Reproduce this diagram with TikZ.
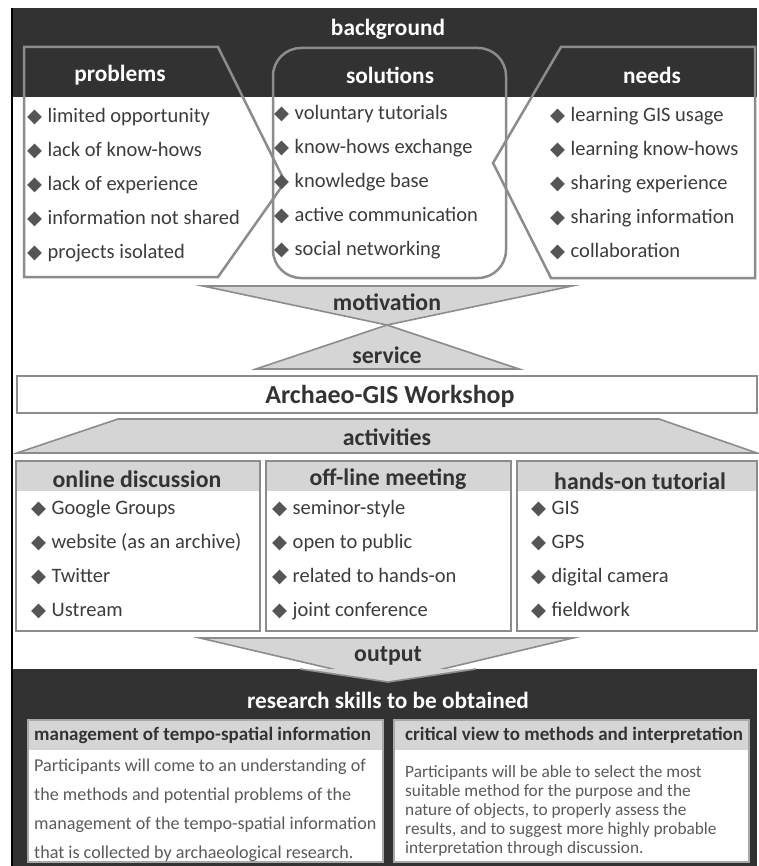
\documentclass[tikz,border=0pt]{standalone}
\usepackage{fontspec}
\setmainfont{Carlito}
\newfontfamily\symfont{DejaVu Sans}
\definecolor{band}{HTML}{323232}
\definecolor{edge}{HTML}{8C8C8C}
\definecolor{subedge}{HTML}{A8A8A8}
\definecolor{lightfill}{HTML}{D5D5D5}
\definecolor{itemtext}{HTML}{3C3C3C}
\definecolor{bodytext}{HTML}{5A5A5A}
\definecolor{hdrtext}{HTML}{333333}
\definecolor{bulletc}{HTML}{555555}
\newcommand{\dmd}{{\symfont\color{bulletc}\fontsize{19.5}{19.5}\selectfont ◆}\hspace{5.5pt}}
\begin{document}
\begin{tikzpicture}[x=1pt,y=-1pt,
  outl/.style={draw=edge, line width=2.5pt, line join=miter},
  tri/.style={draw=edge, fill=lightfill, line width=1.6pt},
  hdr/.style={font=\fontsize{23.3}{25}\selectfont\bfseries, text=white, inner sep=0pt},
  midlabel/.style={font=\fontsize{23.8}{25}\selectfont\bfseries, text=hdrtext, inner sep=0pt},
  item/.style={anchor=west, inner sep=0pt, font=\fontsize{20.5}{22}\selectfont, text=itemtext, text height=13.5pt, text depth=4.5pt},
  subhdr/.style={anchor=west, font=\fontsize{19}{20}\selectfont\bfseries, text=hdrtext, inner sep=0pt, text height=12pt, text depth=4pt},
  bodyL/.style={anchor=west, font=\fontsize{18.1}{20}\selectfont, text=bodytext, inner sep=0pt, text height=12pt, text depth=4pt},
  bodyR/.style={anchor=west, font=\fontsize{17.3}{19}\selectfont, text=bodytext, inner sep=0pt, text height=12pt, text depth=4pt}]
\useasboundingbox (0,0) rectangle (758,866);
\fill[white] (0,0) rectangle (758,866);
% ---------- background band ----------
\fill[band] (12,8) rectangle (757,97);
\node[hdr] (background) at (388,29) {background};
% problems
\draw[outl] (24,47) -- (218,47) -- (285,182) -- (218,277) -- (24,277) -- cycle;
% solutions
\draw[outl, rounded corners=28pt] (273,48) rectangle (506,278);
% needs
\draw[outl] (561,47) -- (755,47) -- (755,278) -- (551,278) -- (493,163) -- cycle;
\node[hdr] (problems) at (120,75) {problems};
\node[hdr] (solutions) at (390,75) {solutions};
\node[hdr] (needs) at (652,75) {needs};
\foreach \t [count=\i] in {limited opportunity, lack of know-hows, lack of experience, information not shared, projects isolated}
  \node[item] (p\i) at (27,{84+34*\i}) {\dmd\t};
\foreach \t [count=\i] in {voluntary tutorials, know-hows exchange, knowledge base, active communication, social networking}
  \node[item] (s\i) at (274,{81+34*\i}) {\dmd\t};
\foreach \t [count=\i] in {learning GIS usage, learning know-hows, sharing experience, sharing information, collaboration}
  \node[item] (n\i) at (550,{83+34*\i}) {\dmd\t};
% ---------- motivation / service ----------
\draw[tri] (203,286) -- (572,286) -- (387,325) -- cycle;
\draw[tri] (387,325) -- (519,369) -- (256,369) -- cycle;
\node[midlabel] (motivation) at (387,302) {motivation};
\node[midlabel] (service) at (387,355) {service};
% ---------- workshop ----------
\draw[outl, fill=white] (17,376) rectangle (757,413);
\node[font=\fontsize{26}{28}\selectfont\bfseries, text=hdrtext, inner sep=0pt] (workshop) at (390,396) {Archaeo-GIS Workshop};
% ---------- activities ----------
\draw[tri] (118,419) -- (659,419) -- (757,453) -- (17,453) -- cycle;
\node[midlabel] (activities) at (387,437) {activities};
% activity boxes
\foreach \xa/\xb in {16/260, 266/511, 517/757}{
  \fill[white] (\xa,461) rectangle (\xb,631);
  \fill[lightfill] (\xa,461) rectangle (\xb,491);
  \draw[outl] (\xa,461) rectangle (\xb,631);
}
\node[midlabel] (online) at (137,479) {online discussion};
\node[midlabel] (offline) at (388,479) {off-line meeting};
\node[midlabel] (handson) at (640,481) {hands-on tutorial};
\foreach \t [count=\i] in {Google Groups, website (as an archive), Twitter, Ustream}
  \node[item] (a\i) at (31,{476+34*\i}) {\dmd\t};
\foreach \t [count=\i] in {seminor-style, open to public, related to hands-on, joint conference}
  \node[item] (b\i) at (272,{476+34*\i}) {\dmd\t};
\foreach \t [count=\i] in {GIS, GPS, digital camera, fieldwork}
  \node[item] (c\i) at (531,{476+34*\i}) {\dmd\t};
% ---------- output ----------
\draw[tri] (200,638) -- (573,638) -- (388,682) -- cycle;
% ---------- research skills ----------
\fill[band] (13,669) rectangle (757,866);
\fill[lightfill] (300,669) -- (476,669) -- (388,682) -- cycle;
\draw[draw=edge, line width=1.6pt] (300,669) -- (388,682) -- (476,669);
\node[midlabel] (output) at (388,656) {output};
\node[hdr] (skills) at (388,700) {research skills to be obtained};
\foreach \xa/\xb in {28/383, 394/749}{
  \fill[white] (\xa,720) rectangle (\xb,862);
  \fill[lightfill] (\xa,720) rectangle (\xb,750);
  \draw[draw=subedge, line width=2pt] (\xa,720) rectangle (\xb,862);
}
\node[subhdr] (mgmt) at (34,736) {management of tempo-spatial information};
\node[subhdr] (crit) at (405,736) {critical view to methods and interpretation};
\foreach \t [count=\i] in {Participants will come to an understanding of, the methods and potential problems of the, management of the tempo-spatial information, that is collected by archaeological research.}
  \node[bodyL] (l\i) at (34,{738+29*\i}) {\t};
\foreach \t [count=\i] in {Participants will be able to select the most, suitable method for the purpose and the, {nature of objects, to properly assess the}, {results, and to suggest more highly probable}, interpretation through discussion.}
  \node[bodyR] (r\i) at (405,{754+19*\i}) {\t};
% frame line
\draw[black, line width=1.3pt] (12,8) -- (12,866);
\end{tikzpicture}
\end{document}
